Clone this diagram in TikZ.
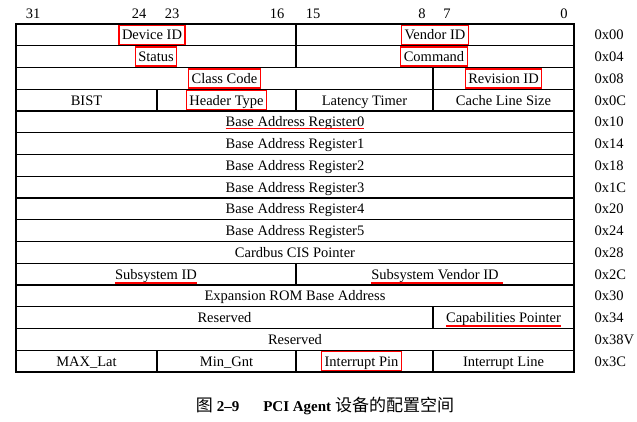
\documentclass[tikz,border=0pt]{standalone}
\usepackage{fontspec}
\setmainfont{Liberation Serif}
\newfontfamily\cjk{Noto Sans CJK SC}
\usepackage{xcolor}
\usepackage{tikz}
\usetikzlibrary{positioning}

\begin{document}
\begin{tikzpicture}[
    x=1pt, y=-1pt,
    cell/.style={
        rectangle,
        draw=black,
        line width=1.1pt,
        minimum height=21.75pt,
        inner sep=0pt,
        text height=11pt,
        text depth=1pt,
        font=\fontsize{14.5}{16}\selectfont
    },
    field/.style={
        inner sep=0pt,
        text height=11pt,
        text depth=1pt,
        font=\fontsize{14.5}{16}\selectfont
    },
    hilite/.style={
        draw=red,
        line width=1.4pt,
        inner xsep=3pt,
        inner ysep=0pt,
        minimum height=19pt,
        text height=11pt,
        text depth=1pt,
        font=\fontsize{14.5}{16}\selectfont
    },
    uline/.style={
        draw=red,
        line width=1.4pt
    },
    bitnum/.style={
        font=\fontsize{14.5}{16}\selectfont
    },
    offset/.style={
        anchor=west,
        text height=11pt,
        text depth=1pt,
        font=\fontsize{14.5}{16}\selectfont
    }
]
\useasboundingbox (0,0) rectangle (637,421);

% Bit numbers
\node[bitnum] (b31) at (33,14) {31};
\node[bitnum] (b24) at (139,14) {24};
\node[bitnum] (b23) at (172,14) {23};
\node[bitnum] (b16) at (277,14) {16};
\node[bitnum] (b15) at (313,14) {15};
\node[bitnum] (b8) at (422,14) {8};
\node[bitnum] (b7) at (447,14) {7};
\node[bitnum] (b0) at (564,14) {0};

% Row 0x00 and 0x04
\node[cell, minimum width=280pt] (devid) at (156,34.875) {};
\node[cell, minimum width=278pt] (venid) at (435,34.875) {};
\node[cell, minimum width=280pt] (status) at (156,56.625) {};
\node[cell, minimum width=278pt] (command) at (435,56.625) {};
\node[hilite] at ([xshift=-4pt]devid.center) {Device ID};
\node[hilite] at (venid.center) {Vendor ID};
\node[hilite] at (status.center) {Status};
\node[hilite] at ([xshift=-1pt]command.center) {Command};

% Row 0x08 and 0x0C
\node[cell, minimum width=417pt] (class) at (224.5,78.375) {};
\node[cell, minimum width=141pt] (revid) at (503.5,78.375) {};
\node[hilite] at (class.center) {Class Code};
\node[hilite] at (revid.center) {Revision ID};
\node[cell, minimum width=141pt] (bist) at (86.5,100.125) {BIST};
\node[cell, minimum width=139pt] (htype) at (226.5,100.125) {};
\node[cell, minimum width=137pt] (latency) at (364.5,100.125) {Latency Timer};
\node[cell, minimum width=141pt] (cacheline) at (503.5,100.125) {Cache Line Size};
\node[hilite] at (htype.center) {Header Type};

% Base address registers
\node[cell, minimum width=558pt] (bar0) at (295,121.875) {};
\node[field] (bar0txt) at (bar0.center) {Base Address Register0};
\foreach \i/\y in {1/143.625, 2/165.375, 3/187.125, 4/208.875, 5/230.625}
    \node[cell, minimum width=558pt] (bar\i) at (295,\y) {Base Address Register\i};

% Cardbus and subsystem
\node[cell, minimum width=558pt] (cardbus) at (295,252.375) {Cardbus CIS Pointer};
\node[cell, minimum width=280pt] (subid) at (156,274.125) {};
\node[cell, minimum width=278pt] (subven) at (435,274.125) {};
\node[field] (subidtxt) at (subid.center) {Subsystem ID};
\node[field] (subventxt) at (subven.center) {Subsystem Vendor ID};

% Expansion ROM, capabilities, reserved
\node[cell, minimum width=558pt] (exprom) at (295,295.875) {Expansion ROM Base Address};
\node[cell, minimum width=417pt] (resv1) at (224.5,317.625) {Reserved};
\node[cell, minimum width=141pt] (capptr) at (503.5,317.625) {};
\node[field] (capptrtxt) at (capptr.center) {Capabilities Pointer};
\node[cell, minimum width=558pt] (resv2) at (295,339.375) {Reserved};

% Row 0x3C
\node[cell, minimum width=141pt] (maxlat) at (86.5,361.125) {MAX\_Lat};
\node[cell, minimum width=139pt] (mingnt) at (226.5,361.125) {Min\_Gnt};
\node[cell, minimum width=137pt] (intpin) at (364.5,361.125) {};
\node[cell, minimum width=141pt] (intline) at (503.5,361.125) {Interrupt Line};
\node[hilite] at ([xshift=-3pt]intpin.center) {Interrupt Pin};

% Red underlines
\draw[uline] ([yshift=-0.5pt]bar0txt.south west) -- ([yshift=-0.5pt]bar0txt.south east);
\draw[uline] ([yshift=-2.5pt]subidtxt.south west) -- ([yshift=-2.5pt]subidtxt.south east);
\draw[uline] ([yshift=-2.5pt]subventxt.south west) -- ([yshift=-2.5pt,xshift=4pt]subventxt.south east);
\draw[uline] ([yshift=-2pt]capptrtxt.south west) -- ([yshift=-2pt]capptrtxt.south east);

% Offsets
\foreach \o/\y in {00/34.875, 04/56.625, 08/78.375, 0C/100.125, 10/121.875, 14/143.625,
    18/165.375, 1C/187.125, 20/208.875, 24/230.625, 28/252.375, 2C/274.125,
    30/295.875, 34/317.625, 38V/339.375, 3C/361.125}
    \node[offset] (off\o) at (591,\y) {0x\o};

% Caption
\node[font=\fontsize{15}{18}\selectfont] (caption) at (325,406)
    {{\cjk\fontsize{17}{18}\selectfont 图}\hspace{4pt}\textbf{2--9}\hspace{24pt}\textbf{PCI Agent}\hspace{4pt}{\cjk\fontsize{17}{18}\selectfont 设备的配置空间}};

\end{tikzpicture}
\end{document}
